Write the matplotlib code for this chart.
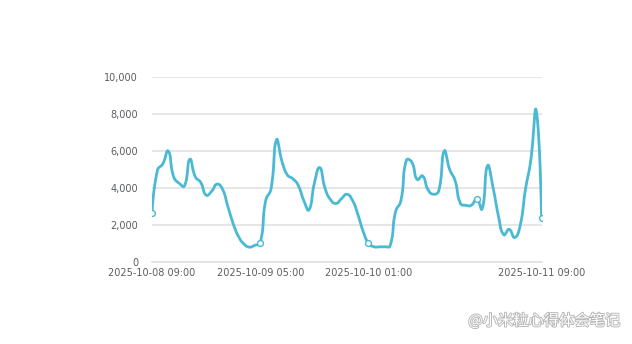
import datetime as dt
import numpy as np
import matplotlib
matplotlib.use('Agg')
import matplotlib.pyplot as plt
import matplotlib.dates as mdates
import matplotlib.patheffects as pe

# hourly values, 2025-10-08 09:00 .. 2025-10-11 09:00
start = dt.datetime(2025, 10, 8, 9, 0)
values = [2650, 4950, 5300, 6000, 4600, 4250, 4100, 5550, 4600, 4300,
          3600, 3800, 4200, 3950, 3000, 2050, 1350, 950, 780, 880,
          1000, 3300, 3950, 6600, 5450, 4700, 4500, 4150, 3350, 2800,
          4250, 5100, 3950, 3350, 3150, 3400, 3650, 3350, 2600, 1650,
          1000, 800, 800, 800, 850, 2700, 3300, 5500, 5400, 4450,
          4650, 3900, 3650, 3850, 6000, 5000, 4400, 3150, 3050, 3050,
          3400, 2850, 5200, 4050, 2500, 1450, 1750, 1300, 1900, 3900,
          5500, 8200, 2350]
times = [start + dt.timedelta(hours=h) for h in range(len(values))]
marker_idx = [0, 20, 40, 60, 72]
xtick_idx = [0, 20, 40, 72]
yticks = [0, 2000, 4000, 6000, 8000, 10000]

LINE = '#4ab9d4'
GRID = '#e2e2e2'
TXT = '#5a5d63'


def smooth_curve(x, y, sx, sy, smooth=0.5, n=16):
    # echarts-like bezier smoothing, done in screen-ish units
    p = np.column_stack([np.asarray(x) * sx, np.asarray(y) * sy])
    cin = p.copy()
    cout = p.copy()
    for i in range(1, len(p) - 1):
        v = p[i + 1] - p[i - 1]
        d0 = np.hypot(*(p[i] - p[i - 1]))
        d1 = np.hypot(*(p[i + 1] - p[i]))
        s = d0 + d1
        cin[i] = p[i] - v * smooth * d0 / s
        cout[i] = p[i] + v * smooth * d1 / s
    t = np.linspace(0, 1, n)[:, None]
    seg = []
    for i in range(len(p) - 1):
        b = ((1 - t) ** 3 * p[i] + 3 * (1 - t) ** 2 * t * cout[i]
             + 3 * (1 - t) * t ** 2 * cin[i + 1] + t ** 3 * p[i + 1])
        seg.append(b if i == 0 else b[1:])
    b = np.vstack(seg)
    return b[:, 0] / sx, b[:, 1] / sy


xn = mdates.date2num(times)
cx, cy = smooth_curve(xn, values, 5.417 * 24, 0.0184)

fig = plt.figure(figsize=(6.32, 3.44), dpi=100)
ax = fig.add_axes([0.2405, 0.2398, 0.6165, 0.5355])

ax.plot(cx, cy, color=LINE, lw=2.0, solid_capstyle='round', zorder=3)
ax.plot(xn[marker_idx], np.array(values)[marker_idx], ls='none', marker='o',
        ms=4.2, mfc='white', mec=LINE, mew=1.0, zorder=4)

ax.set_xlim(xn[0], xn[-1])
ax.set_ylim(0, 10000)
ax.set_yticks(yticks)
ax.set_yticklabels([f'{v:,}' for v in yticks])
ax.set_xticks(xn[xtick_idx])
ax.xaxis.set_major_formatter(mdates.DateFormatter('%Y-%m-%d %H:%M'))

ax.grid(axis='y', color=GRID, lw=1.2)
ax.set_axisbelow(True)
for s in ['top', 'right', 'left']:
    ax.spines[s].set_visible(False)
ax.spines['bottom'].set_color(GRID)
ax.spines['bottom'].set_linewidth(1.2)
ax.tick_params(axis='both', length=0, labelsize=7, labelcolor=TXT)
ax.tick_params(axis='y', pad=10)
ax.tick_params(axis='x', pad=5)

fig.text(0.981, 0.067, '@小米粒心得体会笔记', ha='right', va='center',
         fontsize=11, color='white', family=['Noto Sans CJK SC', 'DejaVu Sans'],
         path_effects=[pe.withStroke(linewidth=1.3, foreground='#b5b5b5')])

fig.savefig('out.png', dpi=100)
